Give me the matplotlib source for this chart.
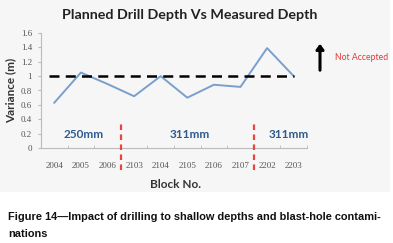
import matplotlib
matplotlib.use("Agg")
import matplotlib.pyplot as plt
from matplotlib.patches import Rectangle, FancyArrowPatch

blocks = ["2004", "2005", "2006", "2103", "2104", "2105", "2106", "2107", "2202", "2203"]
variance = [0.63, 1.05, 0.89, 0.72, 1.00, 0.70, 0.88, 0.85, 1.39, 1.00]
y_ticks = [0, 0.2, 0.4, 0.6, 0.8, 1, 1.2, 1.4, 1.6]
y_tick_labels = ["0", "0.2", "0.4", "0.6", "0.8", "1", "1.2", "1.4", "1.6"]
threshold = 1.0
group_labels = ["250mm", "311mm", "311mm"]
group_centers = [1.1, 5.1, 8.8]
group_breaks = [2.5, 7.5]

fig = plt.figure(figsize=(3.93, 2.43), dpi=100)
fig.patches.append(Rectangle((0, 1 - 192 / 243), 390 / 393, 192 / 243,
                             transform=fig.transFigure, facecolor="#f6f6f6",
                             edgecolor="none", zorder=-10))

ax = fig.add_axes([41 / 393, 1 - 148 / 243, 266 / 393, 115 / 243])
ax.set_facecolor("none")
x = list(range(len(blocks)))
ax.plot(x, variance, color="#7a9fcc", lw=1.4, zorder=3)
ax.plot([-0.2, 9], [threshold, threshold], color="black", lw=1.8,
        dashes=(4, 2.5), zorder=4)

for b in group_breaks:
    ax.plot([b, b], [-0.31, 0.35], color="#e8463c", lw=1.6, dashes=(2.5, 2),
            clip_on=False, zorder=5)

for c, t in zip(group_centers, group_labels):
    ax.text(c, 0.19, t, color="#2f5a8e", fontsize=8.5, fontweight="bold",
            family="Lato", ha="center", va="center")

ax.set_xlim(-0.5, 9.5)
ax.set_ylim(0, 1.6)
ax.set_xticks(x)
ax.set_xticklabels(blocks, family="Liberation Serif", fontsize=6.5, color="#555555")
ax.set_xticks([i + 0.5 for i in range(-1, 10)], minor=True)
ax.tick_params(axis="x", which="major", length=0, pad=10)
ax.tick_params(axis="x", which="minor", length=2.5, color="#bbbbbb", direction="in")
ax.set_yticks(y_ticks)
ax.set_yticklabels(y_tick_labels, family="Liberation Serif", fontsize=6.5, color="#555555")
ax.tick_params(axis="y", length=2.5, color="#bbbbbb", pad=4)
for s in ["top", "right"]:
    ax.spines[s].set_visible(False)
for s in ["left", "bottom"]:
    ax.spines[s].set_color("#bbbbbb")
    ax.spines[s].set_linewidth(0.8)

fig.text(190 / 393, 1 - 15 / 243, "Planned Drill Depth Vs Measured Depth",
         family="Lato", fontweight="bold", fontsize=10.3, color="#222222",
         ha="center", va="center")
fig.text(11 / 393, 1 - 90 / 243, "Variance (m)", family="Lato", fontweight="bold",
         fontsize=8.5, color="#333333", rotation=90, ha="center", va="center")
fig.text(175 / 393, 1 - 185 / 243, "Block No.", family="Lato", fontweight="bold",
         fontsize=8.5, color="#333333", ha="center", va="center")

fig.patches.append(FancyArrowPatch(
    (320 / 393, 1 - 73 / 243), (320 / 393, 1 - 41 / 243),
    transform=fig.transFigure, arrowstyle="-|>,head_length=3,head_width=2.2",
    color="black", lw=2.2, mutation_scale=1))
fig.text(335 / 393, 1 - 58 / 243, "Not Accepted", family="Lato", fontsize=6.2,
         color="#e03a3a", ha="left", va="center")

fig.text(8 / 393, 1 - 217 / 243,
         "Figure 14\u2014Impact of drilling to shallow depths and blast-hole contami-",
         family="Liberation Sans", fontweight="bold",
         fontsize=7.9, color="#111111", ha="left", va="center")
fig.text(8 / 393, 1 - 234 / 243, "nations",
         family="Liberation Sans", fontweight="bold",
         fontsize=7.9, color="#111111", ha="left", va="center")

fig.savefig("out.png", dpi=100)
